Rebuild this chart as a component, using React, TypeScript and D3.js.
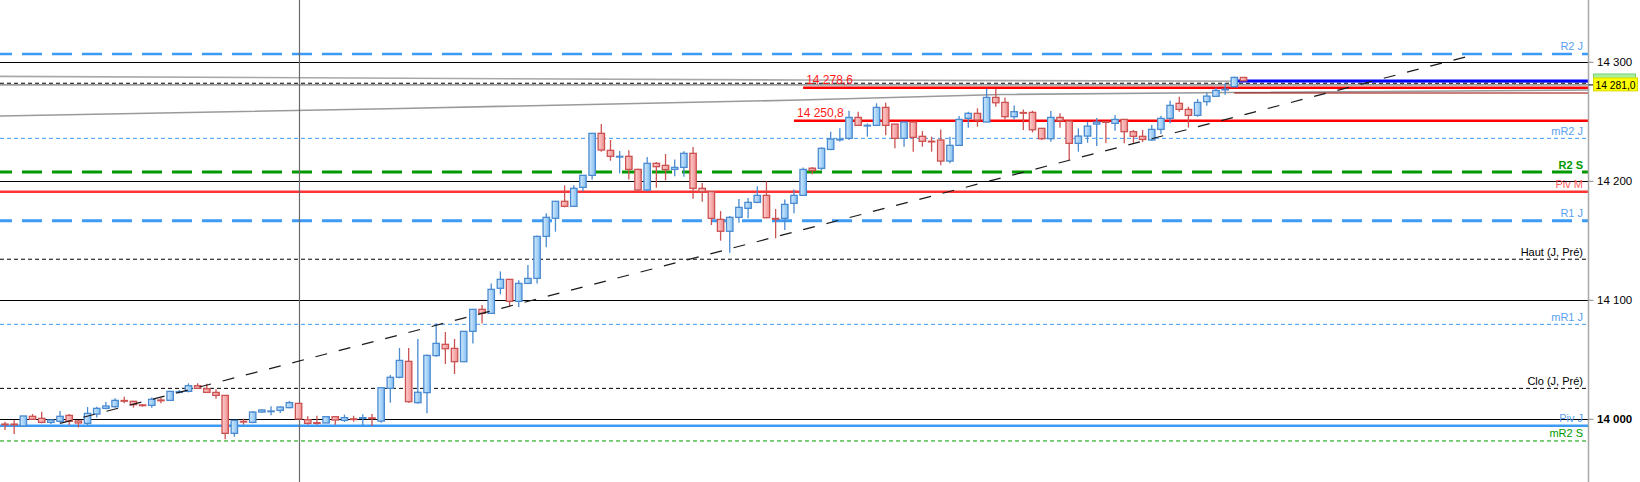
import * as d3 from "d3";

// open, high, low, close (one row per bar)
const candles: [number, number, number, number][] = [
  [13996.2, 13998, 13991, 13995.8],
  [13996.2, 13999.4, 13987.6, 13995.8],
  [13994.4, 14002.8, 13994.4, 14002.8],
  [14002.5, 14004.4, 14000, 14000],
  [14000.8, 14006.4, 13996.6, 13997.4],
  [13997.4, 14000.2, 13996, 13999.4],
  [13998.3, 14007, 13996.6, 14002.5],
  [14003.3, 14004.4, 13995.2, 13998.3],
  [13998.6, 13999.4, 13993.2, 13996.9],
  [13996.6, 14010.3, 13995.2, 14005],
  [14004.4, 14010.6, 14001.6, 14009.2],
  [14009.2, 14014.5, 14008.4, 14011.2],
  [14010.6, 14017.6, 14009.8, 14015.9],
  [14016.2, 14019, 14013.4, 14014.8],
  [14015.1, 14015.6, 14009.8, 14012.3],
  [14012.3, 14012.8, 14010.6, 14012],
  [14011.7, 14018.4, 14009.8, 14016.8],
  [14016.4, 14018.2, 14013.4, 14016.2],
  [14015.9, 14023.5, 14015.9, 14023.5],
  [14023, 14024.6, 14021.8, 14023.4],
  [14023.5, 14030.2, 14022.6, 14028.2],
  [14028.2, 14030.2, 14025.4, 14026],
  [14025.7, 14029.9, 14022.6, 14022.6],
  [14022.6, 14025.2, 14017.3, 14020.1],
  [14020.1, 14020.1, 13983.2, 13988.2],
  [13988.2, 13999.1, 13985.4, 13999.1],
  [13998.5, 14000.5, 13995.5, 13998.3],
  [13997.4, 14007, 13996.6, 14006.1],
  [14006.1, 14008.6, 14005.6, 14007.8],
  [14007, 14010.9, 14003.3, 14007.2],
  [14007.5, 14010.9, 14005.3, 14010.3],
  [14009.8, 14015.4, 14009.2, 14014],
  [14013.4, 14013.4, 14000.2, 14000.2],
  [13999.7, 14002.5, 13995.5, 13996.6],
  [13997.4, 14003, 13995.5, 13997.2],
  [13996.9, 14002.2, 13996.9, 14002.2],
  [14002.2, 14002.5, 13995.5, 13999.4],
  [13999.1, 14003.9, 13997.7, 14001.4],
  [14000.6, 14003, 13998, 14000.5],
  [14001.2, 14004.2, 13994.6, 14001.6],
  [14001.6, 14004.4, 13994.4, 14000.2],
  [13998.5, 14027, 13997, 14026.5],
  [14026, 14037.2, 14014, 14035.3],
  [14035.3, 14059.9, 14034.4, 14049.5],
  [14048.7, 14059.9, 14014, 14014.8],
  [14014, 14067.5, 14013.1, 14022.7],
  [14022.4, 14054.5, 14005, 14053.7],
  [14053.5, 14080.6, 14052.6, 14063.8],
  [14063, 14073.4, 14046.5, 14059.3],
  [14059.6, 14067.5, 14038.1, 14048.4],
  [14048.4, 14073.9, 14048.4, 14073.9],
  [14073.9, 14092.4, 14063.8, 14092.4],
  [14092.4, 14096, 14080.6, 14089],
  [14089, 14114.2, 14089, 14109.2],
  [14110.1, 14124.3, 14105, 14117.6],
  [14117.6, 14117.6, 14094.9, 14099.1],
  [14099.1, 14116.8, 14094.1, 14114.2],
  [14114.2, 14129.7, 14114.2, 14118.4],
  [14118.4, 14154.5, 14114.2, 14153.7],
  [14153.7, 14173.1, 14144.5, 14169.7],
  [14168.9, 14183.2, 14157.7, 14183.2],
  [14183.2, 14196.6, 14178.1, 14179],
  [14179, 14196.6, 14179, 14194.1],
  [14194.9, 14205, 14191.6, 14205],
  [14205, 14240.3, 14201.6, 14240.3],
  [14240.3, 14248.1, 14224.9, 14226.3],
  [14226, 14234.7, 14217.3, 14221],
  [14220.8, 14225.4, 14206.7, 14221.2],
  [14221, 14226, 14201.6, 14210],
  [14210, 14210.6, 14191.6, 14192.7],
  [14192.7, 14220.4, 14191.6, 14215.1],
  [14215.1, 14216.2, 14194.6, 14212.3],
  [14213.4, 14222.9, 14200.8, 14209.8],
  [14210, 14218.4, 14204.2, 14211.7],
  [14211.7, 14225.2, 14203.9, 14223.5],
  [14223.5, 14228.8, 14185.4, 14194.1],
  [14194.1, 14198.6, 14182.9, 14191.3],
  [14191.3, 14191.3, 14163.3, 14168.9],
  [14168, 14175, 14150.1, 14158],
  [14158, 14170.8, 14140, 14169.7],
  [14169.7, 14185.1, 14165.2, 14178.1],
  [14177.3, 14186, 14168.9, 14182.3],
  [14182.3, 14195.8, 14181.5, 14188.2],
  [14188.2, 14200, 14168.9, 14169.4],
  [14169, 14176.7, 14152.1, 14168.9],
  [14168.9, 14184.8, 14159.1, 14180.6],
  [14181.5, 14193.2, 14173.1, 14188.2],
  [14188.2, 14211.7, 14188.2, 14210],
  [14211, 14212, 14206, 14209],
  [14210.9, 14228.5, 14209.5, 14227.7],
  [14226.8, 14241.7, 14226, 14235.5],
  [14235.3, 14244.5, 14233.3, 14235.6],
  [14236.1, 14259.3, 14234.7, 14253.7],
  [14253.7, 14258.5, 14246.4, 14247],
  [14247.1, 14248.7, 14237.5, 14247.3],
  [14247, 14265.5, 14246.4, 14262.1],
  [14262.1, 14266, 14238.6, 14247],
  [14248.1, 14248.1, 14227.7, 14236.1],
  [14236.1, 14249.8, 14229.1, 14249.8],
  [14249.8, 14249.8, 14224.9, 14236.9],
  [14237.8, 14242.2, 14229.1, 14233.6],
  [14233.9, 14237.5, 14224.9, 14233.8],
  [14234.7, 14243.6, 14213.4, 14217],
  [14217, 14237.5, 14215.1, 14230.2],
  [14230.2, 14254.8, 14230.2, 14252],
  [14252.9, 14258.5, 14245.1, 14257.1],
  [14257.1, 14261.3, 14245.9, 14251.5],
  [14249.8, 14277.8, 14249.8, 14270.5],
  [14270.5, 14277.8, 14262.7, 14266],
  [14266.3, 14270.5, 14252, 14254.3],
  [14254.3, 14263.8, 14252, 14258.5],
  [14258, 14260.4, 14243.1, 14257.9],
  [14257.9, 14259.3, 14241.1, 14243.3],
  [14244.5, 14244.5, 14234.7, 14235.8],
  [14235.8, 14259, 14233.3, 14253.7],
  [14253.7, 14257.1, 14245, 14250.9],
  [14250.6, 14250.6, 14217.9, 14231.9],
  [14231.9, 14244.5, 14224.9, 14238],
  [14238, 14250.1, 14232.4, 14246.4],
  [14248.1, 14253.2, 14229.6, 14249.8],
  [14250.6, 14250.6, 14232.2, 14249],
  [14248.7, 14255.7, 14242.5, 14252],
  [14252, 14252.3, 14231.9, 14241.7],
  [14241.7, 14243.1, 14232.4, 14237.8],
  [14237.8, 14243.1, 14233, 14235.2],
  [14234.7, 14247.3, 14233.8, 14243.6],
  [14243.6, 14255.1, 14239.7, 14252.9],
  [14252.9, 14267.7, 14248.7, 14263.8],
  [14265.5, 14271.1, 14258.5, 14260.4],
  [14260.4, 14262.7, 14245.1, 14255.4],
  [14255.4, 14269.1, 14254.3, 14266.3],
  [14266.9, 14274.7, 14263.5, 14271.6],
  [14271.4, 14278.9, 14271, 14276.4],
  [14276.4, 14282.3, 14272.8, 14277.8],
  [14279.5, 14287.9, 14279.5, 14287.3],
  [14287.3, 14287.3, 14284.5, 14284.5],
];

const gridPrices = [14000, 14100, 14200, 14300];
const gridLabels = ["14 000", "14 100", "14 200", "14 300"];

// pivot levels drawn across the whole chart
const levelNames = ["R2 J", "mR2 J", "R2 S", "Piv M", "R1 J", "Haut (J, Pré)", "mR1 J", "Clo (J, Pré)", "Piv J", "mR2 S"];
const levelPrices = [14307, 14236.1, 14207.8, 14191.3, 14166.9, 14134.5, 14079.8, 14026, 13994.6, 13981.8];

// user-drawn horizontal marks (start bar index)
const markLabels = ["14 278,6", "14 250,8"];
const markPrices = [14278.6, 14250.8];
const markStart = [87, 86];

// dashed trend line
const trendBars = [6, 159.3];
const trendPrices = [13996.6, 14304.7];

// moving averages
const slowBars = [-0.55, 43.1, 86.7, 108.5, 133.6, 172.6];
const slowValues = [14254.9, 14261.2, 14268.3, 14272.9, 14274.6, 14276.7];
const fastBars = [-0.55, 86.7, 172.6];
const fastValues = [14288.2, 14285.1, 14283.4];

const lastPrice = 14281.0;
const lastLabel = "14 281,0";
const refPrice = 14282.4;
const bidPrice = 14284.3;
const lowPrice = 14274.2;
const quoteStartBar = 134;
const cursorBar = 32.1;

const BLUE = "#3d9bf5";
const levelStyle: Record<string, { stroke: string; width: number; dash?: string; text: string; bold?: boolean }> = {
  "R2 J": { stroke: BLUE, width: 2.5, dash: "20 10", text: "#5c9ff0" },
  "mR2 J": { stroke: BLUE, width: 1, dash: "4 3", text: "#5c9ff0" },
  "R2 S": { stroke: "#009a00", width: 3, dash: "20 10", text: "#009a00", bold: true },
  "Piv M": { stroke: "#ff3333", width: 2.5, text: "#ff5a5a" },
  "R1 J": { stroke: BLUE, width: 3, dash: "20 10", text: "#5c9ff0" },
  "Haut (J, Pré)": { stroke: "#000", width: 1, dash: "4 3", text: "#000" },
  "mR1 J": { stroke: BLUE, width: 1, dash: "4 3", text: "#5c9ff0" },
  "Clo (J, Pré)": { stroke: "#000", width: 1, dash: "4 3", text: "#000" },
  "Piv J": { stroke: BLUE, width: 2.5, text: "#5c9ff0" },
  "mR2 S": { stroke: "#009a00", width: 1, dash: "4 3", text: "#009a00" },
};

const W = 1640;
const H = 482;
const PLOT_R = 1588.5;
const FONT = "'Liberation Sans', Arial, sans-serif";

export default function App() {
  const x = d3.scaleLinear().domain([0, 135]).range([5, 1243.5]);
  const y = d3.scaleLinear().domain([14000, 14300]).range([419.3, 62.3]);
  const bodyW = 6.4;

  const lineGen = d3
    .line<[number, number]>()
    .x((d) => x(d[0]))
    .y((d) => y(d[1]));

  const slow = slowBars.map((b, i) => [b, slowValues[i]] as [number, number]);
  const fast = fastBars.map((b, i) => [b, fastValues[i]] as [number, number]);
  const trend = trendBars.map((b, i) => [b, trendPrices[i]] as [number, number]);

  return (
    <>
      <style>{`body{margin:0}`}</style>
      <svg width={W} height={H} style={{ display: "block", background: "#fff", fontFamily: FONT }}>
        <defs>
          <linearGradient id="bull" x1="0" x2="1" y1="0" y2="0">
            <stop offset="0" stopColor="#d3ebfd" />
            <stop offset="1" stopColor="#82bdf0" />
          </linearGradient>
          <linearGradient id="bear" x1="0" x2="1" y1="0" y2="0">
            <stop offset="0" stopColor="#fdd0d0" />
            <stop offset="1" stopColor="#f08e8e" />
          </linearGradient>
          <clipPath id="plot">
            <rect x={0} y={0} width={PLOT_R} height={H} />
          </clipPath>
        </defs>

        <g clipPath="url(#plot)">
          {/* moving averages */}
          <path d={lineGen(slow) ?? ""} fill="none" stroke="#9a9a9a" strokeWidth={1.6} />
          <path d={lineGen(fast) ?? ""} fill="none" stroke="#a8a8a8" strokeWidth={1.6} />

          {/* round-number grid */}
          {gridPrices.map((p) => (
            <line key={p} x1={0} x2={PLOT_R} y1={Math.round(y(p)) + 0.5} y2={Math.round(y(p)) + 0.5} stroke="#000" strokeWidth={1} />
          ))}

          {/* pivot levels */}
          {levelNames.map((n, i) => {
            const s = levelStyle[n];
            const yy = y(levelPrices[i]);
            return (
              <line key={n} x1={0} x2={PLOT_R} y1={yy} y2={yy} stroke={s.stroke} strokeWidth={s.width}
                strokeDasharray={s.dash} strokeDashoffset={s.dash && s.width > 1 ? 8 : 0} />
            );
          })}

          {/* current price & references */}
          <line x1={0} x2={PLOT_R} y1={y(refPrice)} y2={y(refPrice)} stroke="#000" strokeWidth={1} strokeDasharray="4 3" />
          <line x1={0} x2={PLOT_R} y1={y(lastPrice)} y2={y(lastPrice)} stroke="#555" strokeWidth={1} />
          <line x1={x(quoteStartBar)} x2={PLOT_R} y1={y(bidPrice)} y2={y(bidPrice)} stroke="#0000ff" strokeWidth={3} />
          <line x1={x(quoteStartBar)} x2={PLOT_R} y1={y(lowPrice)} y2={y(lowPrice)} stroke="#990000" strokeWidth={1} />

          {/* marks */}
          {markPrices.map((p, i) => (
            <g key={i}>
              <line x1={x(markStart[i])} x2={PLOT_R} y1={y(p)} y2={y(p)} stroke="#ff0000" strokeWidth={2.5} />
              <text x={x(markStart[i]) + 3} y={y(p) - 3.5} fontSize={12} fill="#ff1a1a">{markLabels[i]}</text>
            </g>
          ))}

          {/* cursor line */}
          <line x1={x(cursorBar)} x2={x(cursorBar)} y1={0} y2={H} stroke="#6a6a6a" strokeWidth={1.2} />

          {/* candles */}
          {candles.map(([o, h, l, c], i) => {
            const up = c >= o;
            const edge = up ? "#4a8ad0" : "#cc5252";
            const cx = x(i);
            const top = y(Math.max(o, c));
            const bh = Math.max(1.2, y(Math.min(o, c)) - top);
            return (
              <g key={i}>
                <line x1={cx} x2={cx} y1={y(h)} y2={y(l)} stroke={edge} strokeWidth={1.3} />
                {bh > 2 ? (
                  <rect x={cx - bodyW / 2} y={top} width={bodyW} height={bh} fill={up ? "url(#bull)" : "url(#bear)"} stroke={edge} strokeWidth={1.3} />
                ) : (
                  <line x1={cx - bodyW / 2 - 0.6} x2={cx + bodyW / 2 + 0.6} y1={top + bh / 2} y2={top + bh / 2} stroke={edge} strokeWidth={2} />
                )}
              </g>
            );
          })}

          {/* trend line */}
          <path d={lineGen(trend) ?? ""} fill="none" stroke="#1a1a1a" strokeWidth={1.2} strokeDasharray="12 12" />

          {/* level labels */}
          {levelNames.map((n, i) => {
            const s = levelStyle[n];
            return (
              <text key={n} x={1583} y={y(levelPrices[i]) - 3.5} textAnchor="end" fontSize={11} fill={s.text}
                fontWeight={s.bold ? "bold" : "normal"}>{n}</text>
            );
          })}
        </g>

        {/* right axis */}
        <line x1={PLOT_R} x2={PLOT_R} y1={0} y2={H} stroke="#a8a8a8" strokeWidth={1.5} />
        {gridPrices.map((p, i) => (
          <g key={p}>
            <line x1={PLOT_R} x2={PLOT_R + 5} y1={y(p)} y2={y(p)} stroke="#888" />
            <text x={1597} y={y(p) + 4} fontSize={11.5} fill="#000" fontWeight={p % 1000 === 0 ? "bold" : "normal"}>{gridLabels[i]}</text>
          </g>
        ))}

        {/* price tag */}
        <rect x={1593.5} y={74} width={42} height={8} fill="#a6f0a0" stroke="#78d070" />
        <line x1={PLOT_R} x2={1594} y1={y(lastPrice)} y2={y(lastPrice)} stroke="#000" />
        <rect x={1593.5} y={y(lastPrice) - 7} width={44} height={13} fill="#ffff00" stroke="#d8d800" />
        <text x={1595.5} y={y(lastPrice) + 4.2} fontSize={11.5} fill="#000" textLength={40} lengthAdjust="spacingAndGlyphs">{lastLabel}</text>
      </svg>
    </>
  );
}
